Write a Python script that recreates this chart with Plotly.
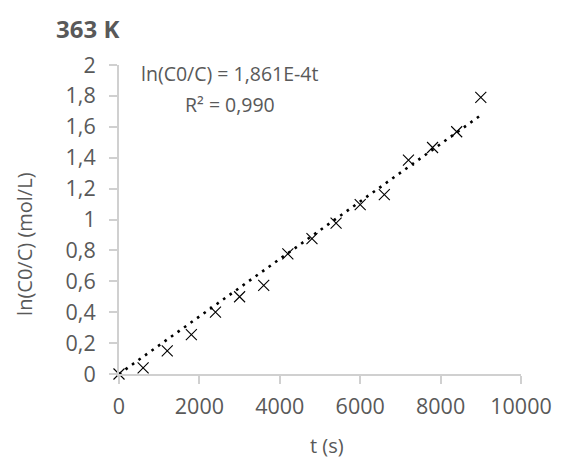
import plotly.graph_objects as go

# Measured first-order decay at 363 K
t_s = [0, 600, 1200, 1800, 2400, 3000, 3600, 4200, 4800, 5400, 6000, 6600, 7200, 7800, 8400, 9000]
ln_c0_c = [0.0, 0.04, 0.15, 0.255, 0.40, 0.50, 0.573, 0.778, 0.876, 0.977, 1.096, 1.161, 1.384, 1.466, 1.568, 1.79]

# Linear fit through the origin: ln(C0/C) = k t
k_fit = 1.861e-4
r2 = 0.990
fit_t = [t_s[0], t_s[-1]]
fit_y = [k_fit * t for t in fit_t]

x_ticks = [0, 2000, 4000, 6000, 8000, 10000]
y_ticks = [0, 0.2, 0.4, 0.6, 0.8, 1.0, 1.2, 1.4, 1.6, 1.8, 2.0]
y_tick_text = ["0", "0,2", "0,4", "0,6", "0,8", "1", "1,2", "1,4", "1,6", "1,8", "2"]

FONT = "Open Sans"
GREY_TEXT = "#595959"
AXIS_GREY = "#d0d0d0"
W, H = 564, 459
ML, MR, MT, MB = 119, 35, 65, 85
PW, PH = W - ML - MR, H - MT - MB


def px_x(x):
    return (x - ML) / PW


def px_y(y):
    return (H - MB - y) / PH


fig = go.Figure()

fig.add_trace(go.Scatter(
    x=fit_t, y=fit_y, mode="lines",
    line=dict(color="black", width=2.6, dash="2.6px,5.4px"),
    hoverinfo="skip", showlegend=False, cliponaxis=False,
))

fig.add_trace(go.Scatter(
    x=t_s, y=ln_c0_c, mode="markers",
    marker=dict(symbol="x-thin", size=11, line=dict(color="black", width=1.1)),
    showlegend=False, cliponaxis=False,
))

# Trendline equation and R² label
eq_font = dict(family=FONT, size=19.5, color=GREY_TEXT)
fig.add_annotation(xref="paper", yref="paper", x=px_x(232), y=px_y(73),
                   xanchor="center", yanchor="middle", showarrow=False,
                   text="ln(C0/C) = 1,861E-4t", font=eq_font)
fig.add_annotation(xref="paper", yref="paper", x=px_x(232), y=px_y(104),
                   xanchor="center", yanchor="middle", showarrow=False,
                   text="R² = " + f"{r2:.3f}".replace(".", ","), font=eq_font)

# Axis titles
title_font = dict(family=FONT, size=20, color=GREY_TEXT)
fig.add_annotation(xref="paper", yref="paper", x=px_x(22), y=px_y(244),
                   xanchor="center", yanchor="middle", showarrow=False, textangle=-90,
                   text="ln(C0/C) (mol/L)", font=title_font)
fig.add_annotation(xref="paper", yref="paper", x=px_x(331), y=px_y(445),
                   xanchor="center", yanchor="middle", showarrow=False,
                   text="t (s)", font=title_font)

tick_font = dict(family=FONT, size=21.5, color=GREY_TEXT)
fig.update_layout(
    width=W, height=H,
    margin=dict(l=ML, r=MR, t=MT, b=MB),
    paper_bgcolor="white", plot_bgcolor="white",
    font=dict(family=FONT, size=18, color=GREY_TEXT),
    title=dict(text="<b>363 K</b>", x=56 / W, xanchor="left", y=1 - 30 / H, yanchor="middle",
               font=dict(family=FONT, size=24, color=GREY_TEXT)),
    xaxis=dict(
        range=[0, 10000], tickvals=x_ticks, ticktext=[str(v) for v in x_ticks],
        showgrid=False, zeroline=False, showline=True, linecolor=AXIS_GREY, linewidth=2,
        ticks="outside", ticklen=8, tickcolor=AXIS_GREY, tickwidth=2, ticklabelstandoff=4,
        tickfont=tick_font,
    ),
    yaxis=dict(
        range=[0, 2], tickvals=y_ticks, ticktext=y_tick_text,
        showgrid=False, zeroline=False, showline=True, linecolor=AXIS_GREY, linewidth=2,
        ticks="outside", ticklen=8, tickcolor=AXIS_GREY, tickwidth=2, ticklabelstandoff=9,
        tickfont=tick_font,
    ),
)

fig.write_html("out.html")
